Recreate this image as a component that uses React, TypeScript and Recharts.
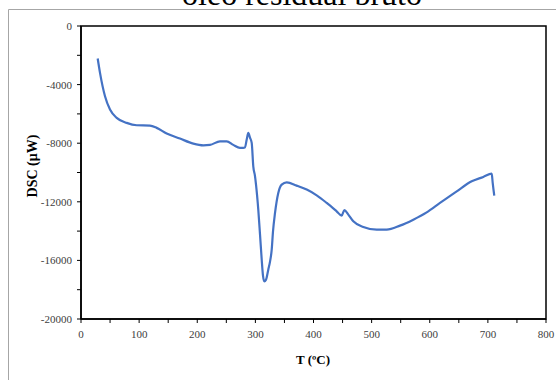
import React from 'react';
import { LineChart, Line, XAxis, YAxis, ReferenceArea } from 'recharts';

const temperature = [28.7, 32.7, 41.3, 49.9, 61.4, 78.6, 95.8, 118.7, 130.2, 147.4, 170.3, 193.2, 210.4, 221.9, 239.1, 250.7, 262, 273.5, 279.2, 282.1, 285.1, 287.8, 290.7, 293.7, 296.4, 299.4, 301.1, 305, 308, 310.9, 313.1, 315.4, 318.3, 322.2, 325.2, 328.1, 330.3, 333.8, 339.4, 345.3, 353.9, 371.1, 388.3, 405.5, 422.7, 439.9, 448.5, 453, 459.9, 468.5, 485.7, 508.7, 525.9, 548.8, 571.7, 594.7, 617.6, 646.4, 672.2, 692.1, 706.6, 708.3, 711];
const dsc = [-2220, -3197, -4795, -5704, -6271, -6612, -6776, -6797, -6954, -7343, -7685, -8027, -8143, -8115, -7869, -7869, -8115, -8320, -8320, -8279, -7753, -7296, -7617, -7979, -9577, -10260, -10827, -12535, -14243, -15950, -17043, -17432, -17316, -16633, -16086, -15267, -14037, -12760, -11394, -10827, -10670, -10895, -11168, -11558, -12077, -12651, -12945, -12569, -12876, -13334, -13716, -13901, -13901, -13628, -13218, -12719, -12077, -11285, -10602, -10301, -10076, -10711, -11578];

const xTicks = [0, 50, 100, 150, 200, 250, 300, 350, 400, 450, 500, 550, 600, 650, 700, 750, 800];
const xLabelTicks = [0, 100, 200, 300, 400, 500, 600, 700, 800];
const yTicks = [0, -2000, -4000, -6000, -8000, -10000, -12000, -14000, -16000, -18000, -20000];
const yLabelTicks = [0, -4000, -8000, -12000, -16000, -20000];

const title = 'óleo residual bruto';
const xTitle = 'T (ºC)';
const yTitle = 'DSC (μW)';

const data = temperature.map((t, i) => ({ t, v: dsc[i] }));

const serif = 'Liberation Serif, Times New Roman, serif';

const XTick = (props: any) => {
  const { x, y, payload } = props;
  if (!xLabelTicks.includes(payload.value)) return null;
  return (
    <text x={x} y={y + 9} textAnchor="middle" fontFamily={serif} fontSize={11} fill="#404040">{String(payload.value)}</text>
  );
};

const YTick = (props: any) => {
  const { x, y, payload } = props;
  if (!yLabelTicks.includes(payload.value)) return null;
  return (
    <text x={x} y={y + 4} textAnchor="end" fontFamily={serif} fontSize={11} fill="#404040">{String(payload.value)}</text>
  );
};

export default function App() {
  return (
    <div style={{ position: 'fixed', left: 0, top: 0, width: 556, height: 380, background: '#fff', overflow: 'hidden' }}>
      <svg width={556} height={380} style={{ position: 'absolute', left: 0, top: 0 }}>
        <line x1={8.5} y1={9.5} x2={556} y2={9.5} stroke="#a6a6a6" strokeWidth={1} />
        <line x1={8.5} y1={9.5} x2={8.5} y2={380} stroke="#a6a6a6" strokeWidth={1} />
        <text x={302} y={4.5} textAnchor="middle" fontFamily={serif} fontSize={32} fill="#000">{title}</text>
      </svg>
      <div style={{ position: 'absolute', left: 0, top: 0 }}>
        <LineChart width={556} height={380} data={data} margin={{ top: 26, right: 10, bottom: 0, left: 0 }}>
          <XAxis
            dataKey="t"
            type="number"
            domain={[0, 800]}
            ticks={xTicks}
            interval={0}
            height={61}
            tickSize={4}
            tickMargin={6}
            axisLine={{ stroke: '#000', strokeWidth: 1.5 }}
            tickLine={{ stroke: '#000' }}
            tick={<XTick />}
            label={{
              content: () => (
                <text x={313} y={363.5} textAnchor="middle" fontFamily={serif} fontSize={13} fontWeight="bold" fill="#000">{xTitle}</text>
              ),
            }}
          />
          <YAxis
            type="number"
            domain={[-20000, 0]}
            ticks={yTicks}
            interval={0}
            width={81}
            tickSize={4}
            tickMargin={5}
            axisLine={{ stroke: '#000', strokeWidth: 1.5 }}
            tickLine={{ stroke: '#000' }}
            tick={<YTick />}
            label={{
              content: () => (
                <text x={0} y={0} transform="translate(37,166) rotate(-90)" textAnchor="middle" fontFamily={serif} fontSize={14} fontWeight="bold" fill="#000">{yTitle}</text>
              ),
            }}
          />
          <ReferenceArea x1={0} x2={800} y1={-20000} y2={0} fill="none" stroke="#000" strokeWidth={1.5} />
          <Line type="monotone" dataKey="v" stroke="#4472C4" strokeWidth={2.2} dot={false} isAnimationActive={false} />
        </LineChart>
      </div>
    </div>
  );
}
